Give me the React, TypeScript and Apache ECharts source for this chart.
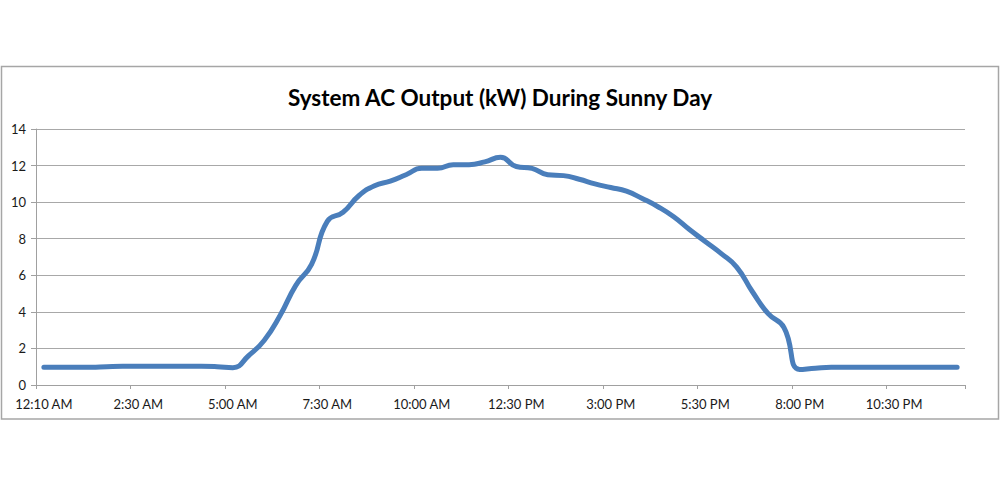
import React, { useEffect, useRef } from "react";
import * as echarts from "echarts";

const categories: string[] = [
  "12:10 AM", "12:25 AM", "12:50 AM", "1:15 AM", "1:40 AM", "2:05 AM",
  "2:30 AM", "2:55 AM", "3:20 AM", "3:45 AM", "4:10 AM", "4:35 AM",
  "5:00 AM", "5:25 AM", "5:50 AM", "6:15 AM", "6:40 AM", "7:05 AM",
  "7:30 AM", "7:55 AM", "8:20 AM", "8:45 AM", "9:10 AM", "9:35 AM",
  "10:00 AM", "10:25 AM", "10:50 AM", "11:15 AM", "11:40 AM", "12:05 PM",
  "12:30 PM", "12:55 PM", "1:20 PM", "1:45 PM", "2:10 PM", "2:35 PM",
  "3:00 PM", "3:25 PM", "3:50 PM", "4:15 PM", "4:40 PM", "5:05 PM",
  "5:30 PM", "5:55 PM", "6:20 PM", "6:45 PM", "7:10 PM", "7:35 PM",
  "8:00 PM", "8:25 PM", "8:50 PM", "9:15 PM", "9:40 PM", "10:05 PM",
  "10:30 PM", "10:55 PM", "11:20 PM", "11:45 PM", "12:10 AM",
];

const acOutputKw: number[] = [
  0.97, 0.97, 0.97, 0.97, 1.0, 1.02,
  1.02, 1.02, 1.02, 1.02, 1.02, 1.0,
  0.95, 1.6, 2.45, 3.8, 5.45, 6.6,
  8.95, 9.45, 10.35, 10.9, 11.15, 11.5,
  11.85, 11.85, 12.05, 12.05, 12.2, 12.45,
  11.95, 11.85, 11.5, 11.45, 11.25, 11.0,
  10.8, 10.6, 10.2, 9.75, 9.2, 8.5,
  7.85, 7.2, 6.45, 5.1, 3.9, 3.15,
  0.85, 0.92, 0.97, 0.97, 0.97, 0.97,
  0.97, 0.97, 0.97, 0.97, 0.97,
];

const yTicks = { min: 0, max: 14, interval: 2 };
const titleText = "System AC Output (kW) During Sunny Day";

export default function App() {
  const ref = useRef<HTMLDivElement>(null);
  useEffect(() => {
    document.body.style.margin = "0";
    if (!ref.current) return;
    const chart = echarts.init(ref.current, undefined, { renderer: "svg" });
    chart.setOption({
      animation: false,
      backgroundColor: "#ffffff",
      title: {
        text: titleText,
        left: "center",
        top: 81,
        textStyle: {
          fontFamily: "Lato",
          fontWeight: "bold",
          fontSize: 22.5,
          color: "#000000",
        },
      },
      graphic: [
        {
          type: "rect",
          shape: { x: 1.5, y: 66.5, width: 997, height: 352.5 },
          style: { fill: "none", stroke: "#a6a6a6", lineWidth: 1.5 },
          silent: true,
        },
      ],
      grid: { left: 36, right: 35, top: 129, bottom: 100, containLabel: false },
      xAxis: {
        type: "category",
        data: categories,
        boundaryGap: true,
        axisLine: { show: true, lineStyle: { color: "#a0a0a0", width: 1 } },
        axisTick: { show: true, interval: 5, length: 4, lineStyle: { color: "#a0a0a0" } },
        axisLabel: {
          interval: 5,
          margin: 12,
          fontFamily: "Lato",
          fontSize: 13,
          color: "#1a1a1a",
        },
        splitLine: { show: false },
      },
      yAxis: {
        type: "value",
        min: yTicks.min,
        max: yTicks.max,
        interval: yTicks.interval,
        axisLine: { show: true, lineStyle: { color: "#a0a0a0", width: 1 } },
        axisTick: { show: true, length: 5, lineStyle: { color: "#a0a0a0" } },
        axisLabel: {
          margin: 10,
          fontFamily: "Lato",
          fontSize: 13,
          color: "#1a1a1a",
        },
        splitLine: { show: true, lineStyle: { color: "#a8a8a8", width: 1 } },
      },
      series: [
        {
          type: "line",
          data: acOutputKw,
          smooth: 0.5,
          showSymbol: false,
          symbol: "none",
          lineStyle: { color: "#4a7ebb", width: 5, cap: "round", join: "round" },
          itemStyle: { color: "#4a7ebb" },
        },
      ],
    });
    return () => chart.dispose();
  }, []);
  return <div ref={ref} style={{ width: 1000, height: 485 }} />;
}
